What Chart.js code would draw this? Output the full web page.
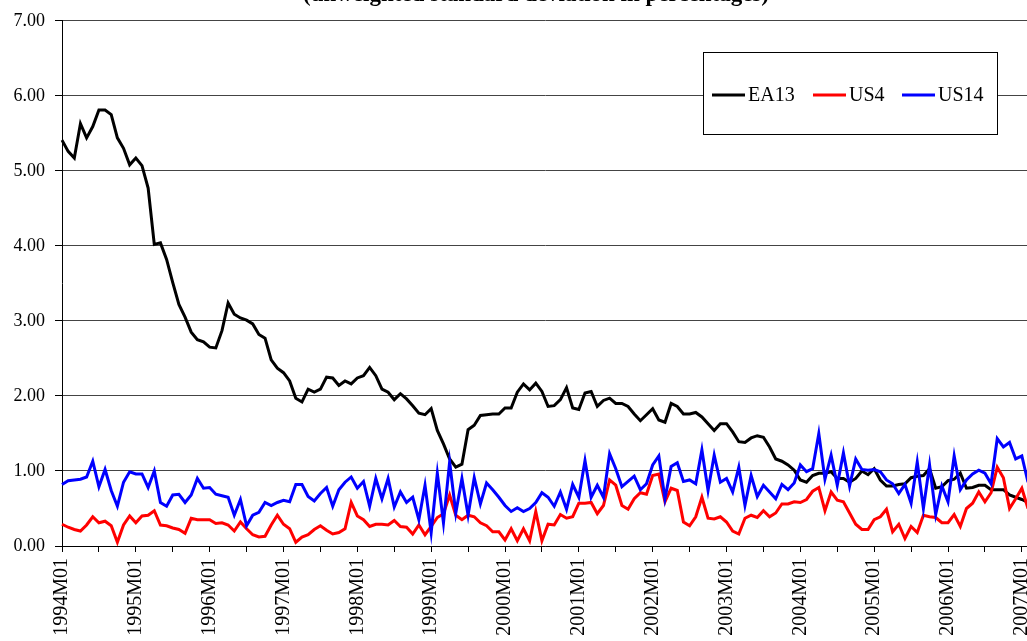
<!DOCTYPE html>
<html>
<head>
<meta charset="utf-8">
<script src="https://cdn.jsdelivr.net/npm/chart.js@4/dist/chart.umd.min.js"></script>
<style>
  html, body { margin: 0; padding: 0; background: #fff; overflow: hidden; }
  #wrap { width: 1040px; height: 641px; }
</style>
</head>
<body>
<div id="wrap"><canvas id="chart" width="1040" height="641"></canvas></div>
<script>
// monthly labels 1994M01 .. 2007M02
const months = [];
for (let y = 1994; y <= 2007; y++) {
  for (let m = 1; m <= 12; m++) {
    if (months.length < 158) months.push(y + "M" + (m < 10 ? "0" + m : m));
  }
}

const yTicks = [0, 1, 2, 3, 4, 5, 6, 7];
const titleText = "(unweighted standard deviation in percentages)";

const ea13 = [
  5.41, 5.26, 5.17, 5.63, 5.44, 5.59, 5.81, 5.81, 5.75, 5.44, 5.30, 5.08,
  5.17, 5.07, 4.77, 4.02, 4.04, 3.82, 3.51, 3.22, 3.05, 2.85, 2.75, 2.72,
  2.65, 2.64, 2.87, 3.24, 3.09, 3.04, 3.01, 2.96, 2.82, 2.77, 2.48, 2.37,
  2.31, 2.20, 1.97, 1.92, 2.09, 2.05, 2.09, 2.25, 2.24, 2.14, 2.20, 2.16,
  2.24, 2.27, 2.38, 2.27, 2.09, 2.05, 1.95, 2.03, 1.96, 1.87, 1.77, 1.75,
  1.83, 1.54, 1.36, 1.16, 1.05, 1.09, 1.55, 1.61, 1.74, 1.75, 1.76, 1.76,
  1.84, 1.84, 2.05, 2.16, 2.08, 2.17, 2.06, 1.86, 1.87, 1.95, 2.11, 1.84,
  1.82, 2.04, 2.06, 1.86, 1.94, 1.97, 1.90, 1.90, 1.86, 1.76, 1.67, 1.75,
  1.83, 1.68, 1.65, 1.90, 1.86, 1.76, 1.76, 1.78, 1.72, 1.63, 1.54, 1.63,
  1.63, 1.52, 1.39, 1.38, 1.44, 1.47, 1.45, 1.32, 1.16, 1.13, 1.08, 1.01,
  0.88, 0.85, 0.94, 0.97, 0.97, 0.99, 0.90, 0.90, 0.85, 0.90, 1.00, 0.95,
  1.03, 0.88, 0.80, 0.80, 0.82, 0.83, 0.91, 0.93, 0.94, 1.03, 0.77, 0.79,
  0.87, 0.89, 0.97, 0.77, 0.78, 0.81, 0.81, 0.75, 0.75, 0.75, 0.68, 0.65,
  0.62, 0.58
];

const us4 = [
  0.29, 0.25, 0.22, 0.20, 0.28, 0.39, 0.31, 0.33, 0.27, 0.05, 0.28, 0.40,
  0.31, 0.40, 0.41, 0.47, 0.28, 0.27, 0.24, 0.22, 0.17, 0.37, 0.35, 0.35,
  0.35, 0.30, 0.31, 0.28, 0.20, 0.32, 0.23, 0.15, 0.12, 0.13, 0.28, 0.41,
  0.29, 0.23, 0.05, 0.12, 0.15, 0.22, 0.27, 0.21, 0.16, 0.18, 0.23, 0.58,
  0.40, 0.35, 0.26, 0.29, 0.29, 0.28, 0.34, 0.26, 0.25, 0.16, 0.28, 0.15,
  0.26, 0.38, 0.43, 0.68, 0.41, 0.35, 0.41, 0.39, 0.31, 0.27, 0.19, 0.19,
  0.08, 0.23, 0.07, 0.23, 0.07, 0.46, 0.07, 0.29, 0.28, 0.42, 0.37, 0.39,
  0.57, 0.57, 0.58, 0.43, 0.54, 0.88, 0.81, 0.54, 0.49, 0.63, 0.71, 0.69,
  0.94, 0.96, 0.59, 0.77, 0.74, 0.32, 0.27, 0.39, 0.65, 0.37, 0.36, 0.39,
  0.32, 0.20, 0.16, 0.37, 0.41, 0.38, 0.47, 0.39, 0.44, 0.56, 0.56, 0.59,
  0.58, 0.62, 0.73, 0.78, 0.47, 0.72, 0.61, 0.59, 0.44, 0.29, 0.22, 0.22,
  0.35, 0.39, 0.49, 0.19, 0.29, 0.10, 0.26, 0.18, 0.41, 0.39, 0.38, 0.31,
  0.31, 0.42, 0.26, 0.50, 0.57, 0.72, 0.59, 0.71, 1.05, 0.91, 0.50, 0.63,
  0.77, 0.50
];

const us14 = [
  0.82, 0.87, 0.88, 0.89, 0.92, 1.13, 0.79, 1.02, 0.74, 0.53, 0.85, 0.99,
  0.96, 0.96, 0.78, 1.00, 0.58, 0.53, 0.68, 0.69, 0.58, 0.68, 0.90, 0.77,
  0.78, 0.69, 0.67, 0.65, 0.41, 0.62, 0.27, 0.41, 0.45, 0.58, 0.54, 0.58,
  0.61, 0.59, 0.82, 0.82, 0.66, 0.60, 0.70, 0.78, 0.53, 0.75, 0.85, 0.92,
  0.77, 0.86, 0.53, 0.90, 0.63, 0.90, 0.52, 0.72, 0.58, 0.65, 0.35, 0.81,
  0.18, 0.97, 0.31, 1.12, 0.44, 0.90, 0.41, 0.91, 0.56, 0.84, 0.75, 0.65,
  0.54, 0.46, 0.51, 0.46, 0.50, 0.58, 0.71, 0.65, 0.53, 0.72, 0.49, 0.82,
  0.65, 1.14, 0.65, 0.81, 0.65, 1.23, 1.03, 0.79, 0.86, 0.93, 0.75, 0.83,
  1.08, 1.20, 0.63, 1.06, 1.11, 0.86, 0.88, 0.83, 1.28, 0.74, 1.21, 0.85,
  0.90, 0.72, 1.05, 0.54, 0.94, 0.66, 0.81, 0.72, 0.63, 0.82, 0.75, 0.84,
  1.08, 0.99, 1.03, 1.50, 0.89, 1.21, 0.81, 1.24, 0.80, 1.16, 1.02, 1.01,
  1.02, 0.99, 0.88, 0.83, 0.70, 0.82, 0.57, 1.12, 0.50, 1.08, 0.42, 0.80,
  0.59, 1.20, 0.75, 0.88, 0.96, 1.01, 0.97, 0.83, 1.43, 1.32, 1.38, 1.16,
  1.20, 0.85
];

const seriesNames = ["EA13", "US4", "US14"];
const seriesColors = ["#000000", "#ff0000", "#0000ff"];

const serif = "'Liberation Serif', 'Times New Roman', serif";

// title sits mostly above the top edge, like in the original crop
const titlePlugin = {
  id: "cutTitle",
  afterDraw(chart) {
    const ctx = chart.ctx;
    ctx.save();
    ctx.font = "bold 23px " + serif;
    ctx.fillStyle = "#000";
    ctx.textAlign = "center";
    ctx.textBaseline = "alphabetic";
    ctx.fillText(titleText, 536, 1);
    ctx.restore();
  }
};

// boxed legend inside the plot
const legendBox = {
  id: "legendBox",
  afterDatasetsDraw(chart) {
    const ctx = chart.ctx;
    ctx.save();
    ctx.fillStyle = "#fff";
    ctx.fillRect(703, 52, 294, 82);
    ctx.strokeStyle = "#000";
    ctx.lineWidth = 1;
    ctx.strokeRect(703.5, 52.5, 294, 82);
    const lineX = [712, 813, 902];
    ctx.font = "20px " + serif;
    ctx.textBaseline = "middle";
    seriesNames.forEach((name, i) => {
      ctx.strokeStyle = seriesColors[i];
      ctx.lineWidth = 3;
      ctx.beginPath();
      ctx.moveTo(lineX[i], 95);
      ctx.lineTo(lineX[i] + 33, 95);
      ctx.stroke();
      ctx.fillStyle = "#000";
      ctx.fillText(name, lineX[i] + 36, 96);
    });
    ctx.restore();
  }
};

const ctx = document.getElementById("chart").getContext("2d");
new Chart(ctx, {
  type: "line",
  data: {
    labels: months,
    datasets: [ea13, us4, us14].map((vals, i) => ({
      label: seriesNames[i],
      data: vals,
      borderColor: seriesColors[i],
      backgroundColor: seriesColors[i],
      borderWidth: 3,
      pointRadius: 0,
      tension: 0,
      fill: false,
      order: 3 - i
    }))
  },
  options: {
    responsive: false,
    animation: false,
    devicePixelRatio: 1,
    layout: { padding: { top: 19, right: 12, left: 0, bottom: 0 } },
    plugins: {
      legend: { display: false },
      title: { display: false },
      tooltip: { enabled: false }
    },
    scales: {
      x: {
        type: "category",
        offset: false,
        border: { color: "#000", width: 1 },
        grid: {
          drawOnChartArea: false,
          tickLength: 6,
          color: (c) => (c.index % 6 === 0 ? "#000" : "transparent")
        },
        ticks: {
          autoSkip: false,
          maxRotation: 90,
          minRotation: 90,
          padding: 6,
          color: "#000",
          font: { family: serif, size: 20 },
          callback: (v, i) => (i % 12 === 0 ? months[i] : "")
        },
        afterFit(scale) {
          scale.height = 95;
          scale.paddingLeft = 0;
          scale.paddingRight = 0;
        }
      },
      y: {
        min: 0,
        max: 7,
        border: { color: "#000", width: 1 },
        grid: { color: "#444", tickColor: "#000", tickLength: 7 },
        afterBuildTicks(scale) {
          scale.ticks = yTicks.map((v) => ({ value: v }));
        },
        ticks: {
          padding: 10,
          color: "#000",
          font: { family: serif, size: 18 },
          callback: (v) => Number(v).toFixed(2)
        },
        afterFit(scale) {
          scale.width = 62;
        }
      }
    }
  },
  plugins: [titlePlugin, legendBox]
});
</script>
</body>
</html>
